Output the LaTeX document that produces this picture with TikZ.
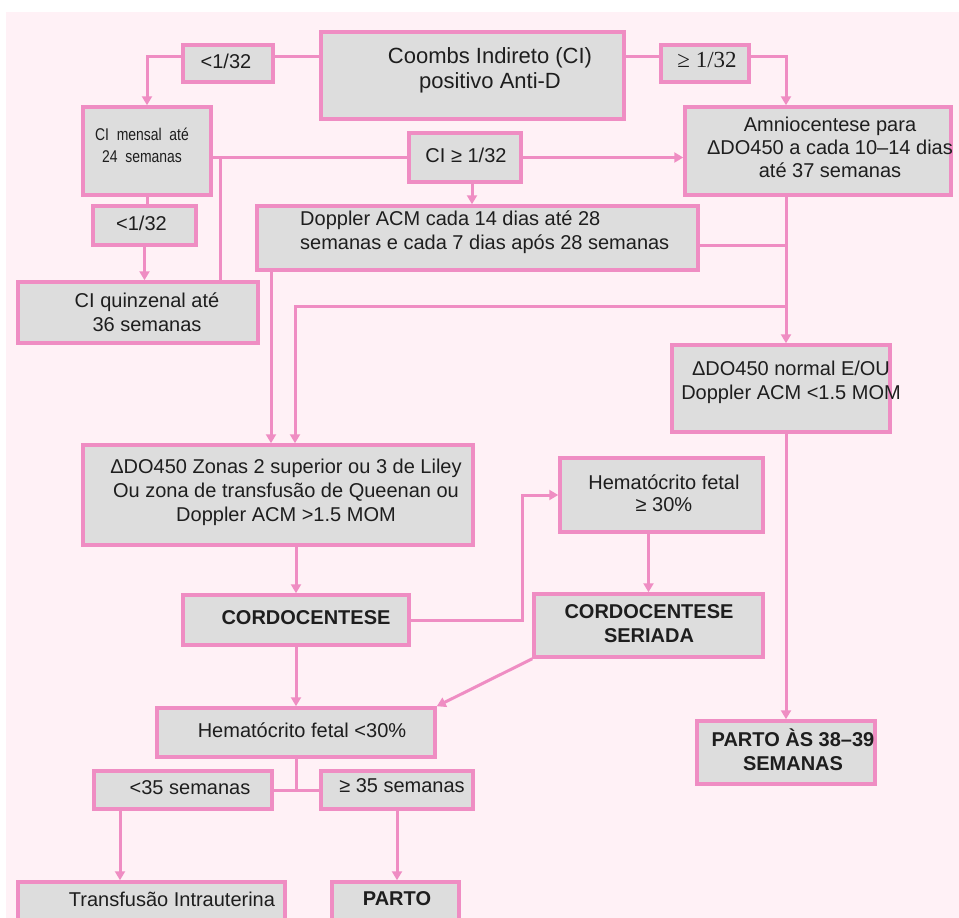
\documentclass[tikz,border=0pt]{standalone}
\usepackage{fontspec}
\setmainfont{Liberation Sans}
\newfontfamily\serifa{Liberation Serif}
\newfontfamily\estreita[FakeStretch=0.82]{Liberation Sans}
\usetikzlibrary{arrows.meta}

\definecolor{rosa}{RGB}{239,141,195}
\definecolor{fundo}{RGB}{255,241,246}
\definecolor{cinza}{RGB}{221,221,221}
\definecolor{tinta}{RGB}{30,30,30}

\tikzset{
  caixa/.style={draw=rosa, fill=cinza, line width=3.5pt, inner sep=0pt},
  texto/.style={text=tinta, align=center, inner sep=0pt, font=\fontsize{20}{24}\selectfont},
  negrito/.style={texto, font=\fontsize{20}{24}\selectfont\bfseries},
  fio/.style={draw=rosa, line width=3pt},
  seta/.style={fio, -{Triangle[length=9pt,width=10pt]}}
}

\begin{document}
\begin{tikzpicture}[x=1pt, y=-1pt]
    \useasboundingbox (0,0) rectangle (959,918);
    \clip (0,0) rectangle (959,918);
    \fill[white] (0,0) rectangle (959,918);
    \fill[fundo] (6,12) rectangle (959,918);

    % caixas
    \node[caixa, minimum width=303pt, minimum height=87pt] (coombs) at (472.5,75.5) {};
    \node[caixa, minimum width=90pt, minimum height=37pt] (lt1) at (228,63.5) {};
    \node[caixa, minimum width=88pt, minimum height=37pt] (ge1) at (705,63.5) {};
    \node[caixa, minimum width=128pt, minimum height=88pt] (mensal) at (147,151) {};
    \node[caixa, minimum width=103pt, minimum height=39pt] (lt2) at (144.5,225.5) {};
    \node[caixa, minimum width=240pt, minimum height=61pt] (quinz) at (138,312.5) {};
    \node[caixa, minimum width=112pt, minimum height=49pt] (ge2) at (465,157.5) {};
    \node[caixa, minimum width=266pt, minimum height=88pt] (amnio) at (818,151) {};
    \node[caixa, minimum width=441pt, minimum height=64pt] (doppler) at (477.5,238) {};
    \node[caixa, minimum width=218pt, minimum height=87pt] (normal) at (781,388.5) {};
    \node[caixa, minimum width=390pt, minimum height=100pt] (zonas) at (278,495) {};
    \node[caixa, minimum width=226pt, minimum height=50pt] (cordo) at (296,620) {};
    \node[caixa, minimum width=203pt, minimum height=74pt] (hemA) at (661.5,495) {};
    \node[caixa, minimum width=229pt, minimum height=63pt] (seriada) at (648.5,625.5) {};
    \node[caixa, minimum width=278pt, minimum height=49pt] (hemB) at (296,732.5) {};
    \node[caixa, minimum width=178pt, minimum height=38pt] (lt35) at (183,790) {};
    \node[caixa, minimum width=152pt, minimum height=38pt] (ge35) at (397,790) {};
    \node[caixa, minimum width=267pt, minimum height=52pt] (transf) at (151.5,908) {};
    \node[caixa, minimum width=127pt, minimum height=52pt] (parto) at (395.5,908) {};
    \node[caixa, minimum width=178pt, minimum height=63pt] (parto3839) at (786,752.5) {};

    % textos
    \node[texto, font=\fontsize{22}{25}\selectfont] (coombsT) at (490,70.5) {Coombs Indireto (CI)\\positivo Anti-D};
    \node[texto] (lt1T) at (226,61) {<1/32};
    \node[texto, font=\serifa\fontsize{23}{26}\selectfont] (ge1T) at (707,60) {≥ 1/32};
    \node[texto, font=\estreita\fontsize{17}{22}\selectfont] (mensalT) at (142,145) {CI\ \ mensal\ \ até\\24\ \ semanas};
    \node[texto] (lt2T) at (141.5,223) {<1/32};
    \node[texto] (quinzT) at (147,312) {CI quinzenal até\\36 semanas};
    \node[texto] (ge2T) at (466,155) {CI ≥ 1/32};
    \node[texto, font=\fontsize{20}{23}\selectfont] (amnioT) at (830,147) {Amniocentese para\\ΔDO450 a cada 10–14 dias\\até 37 semanas};
    \node[texto, align=left, anchor=west] (dopplerT) at (300,232.5) {Doppler ACM cada 14 dias até 28\\semanas e cada 7 dias após 28 semanas};
    \node[texto] (normalT) at (791,382) {ΔDO450 normal E/OU\\Doppler ACM <1.5 MOM};
    \node[texto] (zonasT) at (286,492) {ΔDO450 Zonas 2 superior ou 3 de Liley\\Ou zona de transfusão de Queenan ou\\Doppler ACM >1.5 MOM};
    \node[negrito] (cordoT) at (306,618) {CORDOCENTESE};
    \node[texto, font=\fontsize{20}{22}\selectfont] (hemAT) at (664,493) {Hematócrito fetal\\≥ 30\%};
    \node[negrito] (seriadaT) at (649,624) {CORDOCENTESE\\SERIADA};
    \node[texto] (hemBT) at (302,730) {Hematócrito fetal <30\%};
    \node[texto] (lt35T) at (190,788) {<35 semanas};
    \node[texto] (ge35T) at (402,786) {≥ 35 semanas};
    \node[texto] (transfT) at (172,899) {Transfusão Intrauterina};
    \node[negrito] (partoT) at (397,899) {PARTO};
    \node[negrito] (parto3839T) at (793,749.5) {PARTO ÀS 38–39\\SEMANAS};

    % pontos de junção
    \coordinate (jA) at (786,245);
    \coordinate (jB) at (786,306);
    \coordinate (jC) at (220,157.5);
    \coordinate (jD) at (522,620);

    % ligações
    \draw[fio] ([yshift=7.5pt]lt1.east) -- ([yshift=7.5pt]lt1.east -| coombs.west);
    \draw[seta] ([yshift=7.5pt]lt1.west) -| (mensal.north);
    \draw[fio] ([yshift=7.5pt]ge1.west) -- ([yshift=7.5pt]ge1.west -| coombs.east);
    \draw[seta] ([yshift=7.5pt]ge1.east) -| (jA |- amnio.north);
    \draw[fio] (mensal.south) -- (mensal.south |- lt2.north);
    \draw[seta] (lt2.south) -- (lt2.south |- quinz.north);
    \draw[fio] (ge2.west) -- (ge2.west -| mensal.east);
    \draw[fio] (jC) -- (jC |- quinz.north);
    \draw[seta] (ge2.east) -- (ge2.east -| amnio.west);
    \draw[seta] ([xshift=7pt]ge2.south) -- ([xshift=7pt]ge2.south |- doppler.north);
    \draw[seta] (jA |- amnio.south) -- (jA |- normal.north);
    \draw[fio] (jA -| doppler.east) -- (jA);
    \draw[seta] (jB) -| ([xshift=17pt]zonas.north);
    \draw[seta] ([xshift=-7pt]zonas.north |- doppler.south) -- ([xshift=-7pt]zonas.north);
    \draw[seta] (jA |- normal.south) -- (jA |- parto3839.north);
    \draw[seta] (zonas.south -| cordo.north) -- (cordo.north);
    \draw[seta] (cordo.east) -- (jD) |- (hemA.west);
    \draw[seta] (seriada.north |- hemA.south) -- (seriada.north);
    \draw[seta] (seriada.south west) -- (hemB.north east);
    \draw[seta] (cordo.south) -- (cordo.south |- hemB.north);
    \draw[fio] (hemB.south) -- (hemB.south |- lt35.east);
    \draw[fio] (lt35.east) -- (ge35.west);
    \draw[seta] ([xshift=-63pt]lt35.south) -- ([xshift=-63pt]lt35.south |- transf.north);
    \draw[seta] (ge35.south) -- (ge35.south |- parto.north);
\end{tikzpicture}
\end{document}
